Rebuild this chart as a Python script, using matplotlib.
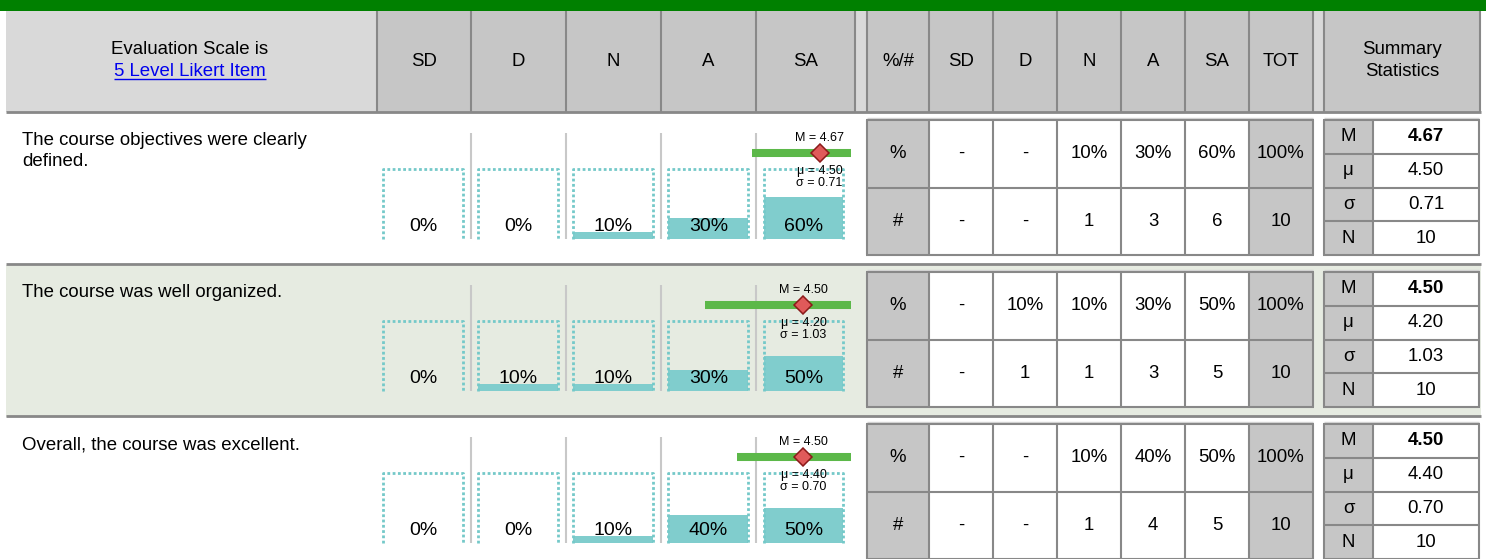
import matplotlib
matplotlib.use("Agg")
import matplotlib.pyplot as plt
from matplotlib.patches import Rectangle
import numpy as np

plt.rcParams['font.family'] = ['Liberation Sans', 'DejaVu Sans']

# data
questions = [
    "The course objectives were clearly\ndefined.",
    "The course was well organized.",
    "Overall, the course was excellent.",
]
levels = ['SD', 'D', 'N', 'A', 'SA']
counts = [
    [0, 0, 1, 3, 6],
    [0, 1, 1, 3, 5],
    [0, 0, 1, 4, 5],
]
medians = [4.67, 4.50, 4.50]
means = [4.50, 4.20, 4.40]
stdevs = [0.71, 1.03, 0.70]

W, H = 1486, 559
GRAY_HEAD = '#c6c6c6'
GRAY_LIGHT = '#d9d9d9'
BORDER = '#888888'
TEAL = '#80cdcd'
FS = 13.4

fig = plt.figure(figsize=(W / 100, H / 100), dpi=100)
ax = fig.add_axes([0, 0, 1, 1])
ax.set_xlim(0, W)
ax.set_ylim(H, 0)
ax.axis('off')


def rect(x0, y0, x1, y1, fc, ec='none', lw=0, z=1):
    ax.add_patch(Rectangle((x0, y0), x1 - x0, y1 - y0, facecolor=fc,
                           edgecolor=ec, linewidth=lw, zorder=z))


def hline(y, x0, x1, color=BORDER, lw=1.5, z=3):
    ax.plot([x0, x1], [y, y], color=color, lw=lw, zorder=z, solid_capstyle='butt')


def vline(x, y0, y1, color=BORDER, lw=1.5, z=3):
    ax.plot([x, x], [y0, y1], color=color, lw=lw, zorder=z, solid_capstyle='butt')


# ---- header ----
rect(0, 0, W, 11, '#008000')
head_top, head_bot = 11, 112
rect(6, head_top, 377, head_bot, GRAY_LIGHT)
bar_edges = [377, 471, 566, 661, 756, 855]
tab_edges = [867, 929, 993, 1057, 1121, 1185, 1249, 1313]
sum_edges = [1324, 1480]
rect(377, head_top, 855, head_bot, GRAY_HEAD)
rect(855, head_top, 867, head_bot, GRAY_LIGHT)
rect(867, head_top, 1313, head_bot, GRAY_HEAD)
rect(1313, head_top, 1324, head_bot, GRAY_LIGHT)
rect(1324, head_top, 1480, head_bot, GRAY_HEAD)
for x in bar_edges + tab_edges + sum_edges:
    vline(x, head_top, head_bot)
hline(head_bot, 6, 1481, lw=2)

ax.text(190, 49, "Evaluation Scale is", ha='center', va='center', fontsize=FS)
link = ax.text(190, 72, "5 Level Likert Item", ha='center', va='center',
               fontsize=FS, color='#0000ee')
for i, lab in enumerate(levels):
    ax.text((bar_edges[i] + bar_edges[i + 1]) / 2, 61, lab, ha='center',
            va='center', fontsize=FS)
for i, lab in enumerate(['%/#'] + levels + ['TOT']):
    ax.text((tab_edges[i] + tab_edges[i + 1]) / 2, 61, lab, ha='center',
            va='center', fontsize=FS)
ax.text(1402, 49, "Summary", ha='center', va='center', fontsize=FS)
ax.text(1402, 72, "Statistics", ha='center', va='center', fontsize=FS)

# ---- rows ----
ROW_TOP = 113
ROW_H = 152
BAR_X0, BAR_X1 = 375.5, 851
for r, q in enumerate(questions):
    o = ROW_H * r
    if r == 1:
        rect(6, ROW_TOP + o, 1481, ROW_TOP + o + ROW_H, '#e6ebe1', z=0)
    if r > 0:
        hline(ROW_TOP + o - 1, 6, 1481, lw=2)

    ax.text(22, 132 + o, q, ha='left', va='top', fontsize=FS, linespacing=1.28)

    n = sum(counts[r])
    pct = [100.0 * c / n for c in counts[r]]

    # bar panel
    y_top, y_box, y_bot = 133 + o, 169 + o, 238.5 + o
    bax = fig.add_axes([BAR_X0 / W, 1 - y_bot / H, (BAR_X1 - BAR_X0) / W,
                        (y_bot - y_top) / H])
    bax.set_xlim(0, 5)
    bax.set_ylim(0, 100 * (y_bot - y_top) / (y_bot - y_box))
    bax.axis('off')
    bax.patch.set_visible(False)
    xt = bax.get_xaxis_transform()
    for k in range(1, 5):
        bax.axvline(k, color='#c8c8c8', lw=1.5, zorder=1)
    xs = np.arange(5) + 0.5
    bw = 0.84
    bax.bar(xs, pct, width=bw, color=TEAL, zorder=2)
    for x, p in zip(xs, pct):
        bax.plot([x - bw / 2, x - bw / 2, x + bw / 2, x + bw / 2], [0, 100, 100, 0],
                 color='#74c9c9', lw=2.0, linestyle=(0, (1, 0.9)), zorder=2,
                 clip_on=False, solid_capstyle='butt', dash_capstyle='butt')
        bax.text(x, 0.11, f"{p:.0f}%", transform=xt, ha='center', va='center',
                 fontsize=14, zorder=4)
    m, mu, sd = medians[r], means[r], stdevs[r]
    bax.plot([max(m - sd, 0), min(m + sd, 5)], [0.81, 0.81], transform=xt,
             color='#5cb849', lw=5.8, solid_capstyle='butt', zorder=5,
             clip_on=False)
    bax.plot([m], [0.81], transform=xt, marker='D', ms=9.5, mfc='#e05a5a',
             mec='#8b1a1a', mew=1.1, zorder=6, clip_on=False)
    bax.text(m, 0.955, f"M = {m:.2f}", transform=xt, ha='center', va='center',
             fontsize=9, zorder=6)
    bax.text(m, 0.64, f"\u03bc = {mu:.2f}", transform=xt, ha='center',
             va='center', fontsize=9, zorder=6)
    bax.text(m, 0.525, f"\u03c3 = {sd:.2f}", transform=xt, ha='center',
             va='center', fontsize=9, zorder=6)

    # %/# table
    t0, tm, t1 = 120 + o, 187.5 + o, 255 + o
    hline(118 + o, 867, 1313, color='#d6d6d6', lw=1)
    rect(867, t0, 1313, t1, 'white')
    rect(867, t0, 929, t1, GRAY_HEAD)
    rect(1249, t0, 1313, t1, GRAY_HEAD)
    for x in tab_edges:
        vline(x, t0, t1)
    for y in (t0, tm, t1):
        hline(y, 866, 1314)
    rows_txt = [
        ['%'] + [f"{p:.0f}%" if c else '-' for p, c in zip(pct, counts[r])] + ['100%'],
        ['#'] + [str(c) if c else '-' for c in counts[r]] + [str(n)],
    ]
    for ri, (ya, yb) in enumerate([(t0, tm), (tm, t1)]):
        for ci, s in enumerate(rows_txt[ri]):
            ax.text((tab_edges[ci] + tab_edges[ci + 1]) / 2, (ya + yb) / 2, s,
                    ha='center', va='center', fontsize=FS, zorder=4)

    # summary table
    ys = np.linspace(t0, t1, 5)
    hline(118 + o, 1324, 1479, color='#d6d6d6', lw=1)
    rect(1324, t0, 1479, t1, 'white')
    rect(1324, t0, 1373, t1, GRAY_HEAD)
    for x in (1324, 1373, 1479):
        vline(x, t0, t1)
    for y in ys:
        hline(y, 1323, 1480)
    labels = ['M', '\u03bc', '\u03c3', 'N']
    vals = [f"{m:.2f}", f"{mu:.2f}", f"{sd:.2f}", str(n)]
    for k in range(4):
        yc = (ys[k] + ys[k + 1]) / 2
        ax.text(1348.5, yc, labels[k], ha='center', va='center', fontsize=FS, zorder=4)
        ax.text(1426, yc, vals[k], ha='center', va='center', fontsize=FS, zorder=4,
                fontweight='bold' if k == 0 else 'normal')

# underline for the link
fig.canvas.draw()
bb = link.get_window_extent().transformed(ax.transData.inverted())
ux0, ux1 = sorted([bb.x0, bb.x1])
uy = max(bb.y0, bb.y1) - 2
hline(uy, ux0, ux1, color='#0000ee', lw=1)

fig.savefig('out.png', dpi=100)
